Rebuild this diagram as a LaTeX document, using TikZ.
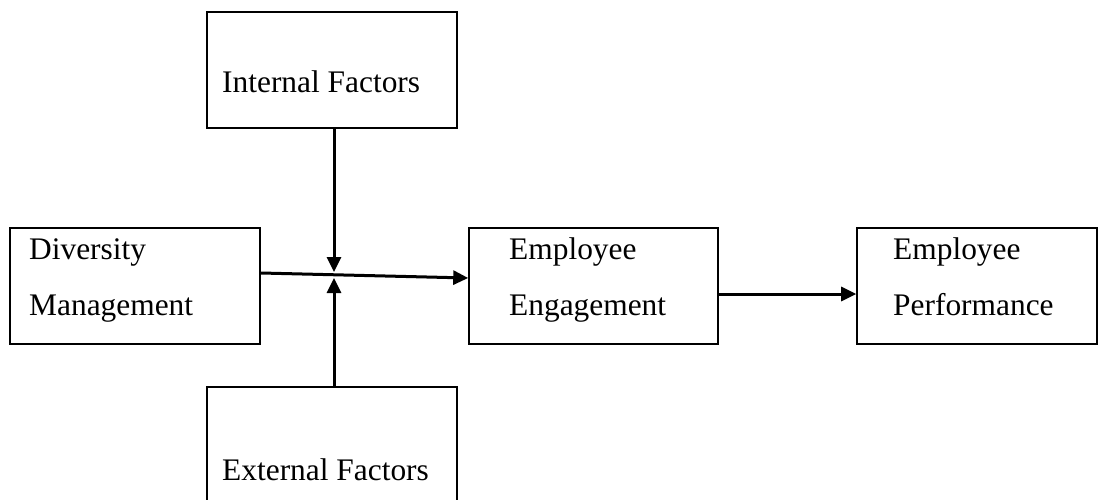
\documentclass[tikz,border=0pt]{standalone}
\usepackage{fontspec}
\setmainfont{Liberation Serif}
\usetikzlibrary{arrows.meta}
\begin{document}
\begin{tikzpicture}[x=1pt,y=-1pt,
    box/.style={draw, line width=1.6pt, minimum width=250pt, minimum height=116pt, inner sep=0pt},
    lbl/.style={anchor=base west, align=left, inner sep=0pt, font=\fontsize{31.4}{56}\selectfont},
    arr/.style={line width=3pt, -{Triangle[length=15pt,width=14pt]}}]
    \useasboundingbox (0,0) rectangle (1099,500);
    % boxes
    \node[box] (intf) at (332,70) {};
    \node[box] (div) at (135,286) {};
    \node[box, minimum width=249pt] (eng) at (593.5,286) {};
    \node[box, minimum width=240pt] (perf) at (977,286) {};
    \node[box, minimum height=130pt] (extf) at (332,452) {};
    % labels (anchored at the last baseline)
    \node[lbl] (intt) at (222,93) {Internal Factors};
    \node[lbl] (divt) at (29,315) {Diversity\\Management};
    \node[lbl] (engt) at (509,315) {Employee\\Engagement};
    \node[lbl] (perft) at (893,315) {Employee\\Performance};
    \node[lbl] (extt) at (222,480) {External Factors};
    % arrows
    \coordinate (jn) at (334,275);
    \draw [arr] ([yshift=13pt]div.east) -- ([yshift=8pt]eng.west);
    \draw [arr] (intf.south -| jn) -- ([yshift=3pt]jn);
    \draw [arr] (extf.north -| jn) -- ([yshift=-3pt]jn);
    \draw [arr] ([yshift=-8pt]eng.east) -- ([yshift=-8pt]perf.west);
\end{tikzpicture}
\end{document}
